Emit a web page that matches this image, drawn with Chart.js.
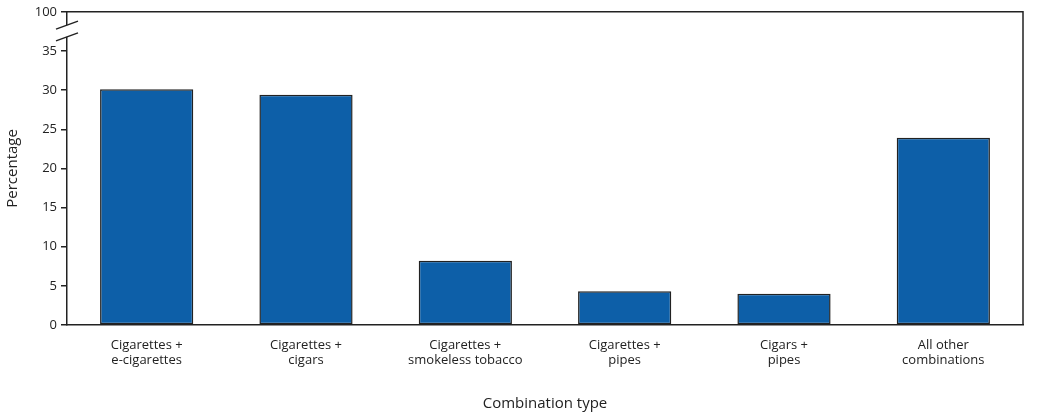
<!DOCTYPE html>
<html><head><meta charset="utf-8">
<script src="https://cdn.jsdelivr.net/npm/chart.js"></script>
<style>html,body{margin:0;background:#fff}#w{width:1039px;height:417px}</style>
</head><body><div id="w"><canvas id="c"></canvas></div>
<script>
const categories=[["Cigarettes +","e-cigarettes"],["Cigarettes +","cigars"],["Cigarettes +","smokeless tobacco"],["Cigarettes +","pipes"],["Cigars +","pipes"],["All other","combinations"]];
const values=[30.1,29.4,8.2,4.3,4.0,23.9];
const yTicks=[0,5,10,15,20,25,30,35,40];
const yTickLabels={40:"100"};
const F="'Open Sans', sans-serif";
const breakPlugin={id:'brk',afterDraw(ch){const c=ch.ctx,a=ch.chartArea,y=ch.scales.y;const x=a.left;
const y1=y.getPixelForValue(38.3),y2=y.getPixelForValue(36.8);
c.save();c.fillStyle='#fff';c.fillRect(x-3,y1,6,y2-y1);c.strokeStyle='#222';c.lineWidth=1.5;
[y1,y2].forEach(v=>{c.beginPath();c.moveTo(x-11,v+4);c.lineTo(x+11,v-4);c.stroke();});
c.strokeStyle='#222';c.lineWidth=1.5;c.beginPath();c.moveTo(a.left,a.top);c.lineTo(a.right,a.top);c.lineTo(a.right,a.bottom);c.stroke();c.restore();}};
new Chart(document.getElementById('c'),{type:'bar',
data:{labels:categories,datasets:[{data:values,backgroundColor:'#0d5fa8',borderColor:'#222',borderWidth:1.5,borderSkipped:false,categoryPercentage:0.585,barPercentage:1}]},
options:{responsive:true,maintainAspectRatio:false,animation:false,
layout:{padding:{top:4,right:16,left:0,bottom:0}},
plugins:{legend:{display:false},tooltip:{enabled:false}},
scales:{
x:{grid:{display:false,drawTicks:true},border:{color:'#222',width:1.5},ticks:{color:'#222',font:{family:F,size:13},padding:4},
 title:{display:true,text:'Combination type',color:'#222',font:{family:F,size:15},padding:{top:12}},
 afterFit(s){s.height=92;}},
y:{min:0,max:40,afterBuildTicks(s){s.ticks=yTicks.map(v=>({value:v}));},
 grid:{display:true,drawOnChartArea:false,drawTicks:true,tickLength:6,color:'#222',lineWidth:1.5},border:{color:'#222',width:1.5},
 ticks:{color:'#222',font:{family:F,size:13},padding:4,callback:v=>yTickLabels[v]||String(v)},
 title:{display:true,text:'Percentage',color:'#222',font:{family:F,size:15},padding:{bottom:6}},
 afterFit(s){s.width=67;}}
}},plugins:[breakPlugin]});
</script></body></html>
